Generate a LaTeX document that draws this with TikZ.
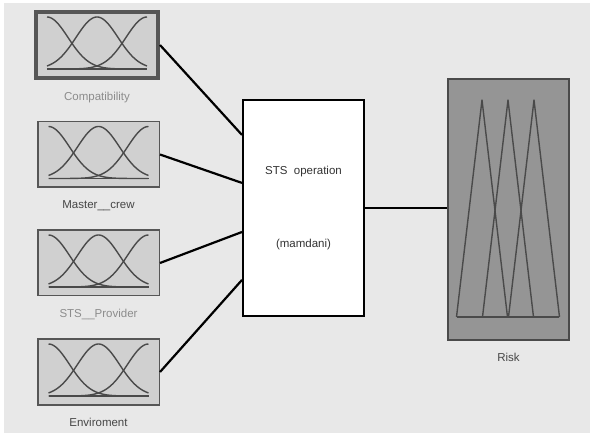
\documentclass[tikz,border=0pt]{standalone}
\usepackage{fontspec}
\setmainfont{Liberation Sans}
\usepackage{tikz}
\usetikzlibrary{positioning, calc}
\definecolor{canvas}{HTML}{E8E8E8}
\definecolor{varfill}{HTML}{D0D0D0}
\definecolor{varedge}{HTML}{565656}
\definecolor{mfline}{HTML}{4A4A4A}
\definecolor{outfill}{HTML}{959595}
\definecolor{lightlab}{HTML}{8C8C8C}
\definecolor{darklab}{HTML}{464646}

\begin{document}
\begin{tikzpicture}[x=1pt, y=-1pt, font=\fontsize{11.5}{13.8}\selectfont,
  varbox/.style={draw=varedge, line width=1.5pt, fill=varfill, minimum width=121.5pt, minimum height=65.5pt, inner sep=0pt},
  oplabel/.style={inner sep=0pt},
  mf/.style={draw=mfline, line width=1.4pt},
  wire/.style={draw=black, line width=2.2pt}]
  \fill[white] (0,0) rectangle (590,433);
  \fill[canvas] (4,3) rectangle (590,433);
  \useasboundingbox (0,0) rectangle (590,433);
  \node[varbox, line width=4pt, minimum width=122pt, minimum height=66pt] (in1) at (97,45) {};
  \node[varbox] (in2) at (98.5,154.5) {};
  \node[varbox] (in3) at (98.5,263) {};
  \node[varbox] (in4) at (98.5,372) {};
  \node[oplabel, text=lightlab, below=12pt of in1] (lab1) {Compatibility};
  \node[oplabel, text=darklab, below=12pt of in2] (lab2) {Master\_\_crew};
  \node[oplabel, text=lightlab, below=12pt of in3] (lab3) {STS\_\_Provider};
  \node[oplabel, text=darklab, below=12pt of in4] (lab4) {Enviroment};
  \foreach \v in {in1,in2,in3,in4} {
    \begin{scope}[shift={(\v.center)}]
      \foreach \c in {-50,0,50}
        \draw[mf] plot[domain=-50:50, samples=60, smooth] (\x, {24-52*exp(-((\x-\c)^2)/882)});
      \draw[mf] (-50,24) -- (50,24);
    \end{scope}
  }
  \node[draw=black, line width=2pt, fill=white, minimum width=121pt, minimum height=216pt, align=center, text=black!80] (op) at (303.5,208) {STS\ \ operation\\[60pt](mamdani)};
  \node[draw=mfline, line width=2pt, fill=outfill, minimum width=121pt, minimum height=261pt, inner sep=0pt] (risk) at (508.5,209.5) {};
  \node[oplabel, text=darklab, below=12pt of risk] (lab5) {Risk};
  \begin{scope}[shift={(risk.center)}]
    \foreach \p in {-26.5,-0.5,25.5}
      \draw[mf, line join=round] ({\p-25.5},107.5) -- (\p,-109.5) -- ({\p+25.5},107.5);
    \draw[mf] (-51.5,107.5) -- (50.5,107.5);
  \end{scope}
  \draw[wire] (in1.east) -- ($(op.north west)!0.165!(op.south west)$);
  \draw[wire] (in2.east) -- ($(op.north west)!0.385!(op.south west)$);
  \draw[wire] (in3.east) -- ($(op.north west)!0.61!(op.south west)$);
  \draw[wire] (in4.east) -- ($(op.north west)!0.83!(op.south west)$);
  \draw[wire] (op.east) -- (op.east -| risk.west);
\end{tikzpicture}
\end{document}
